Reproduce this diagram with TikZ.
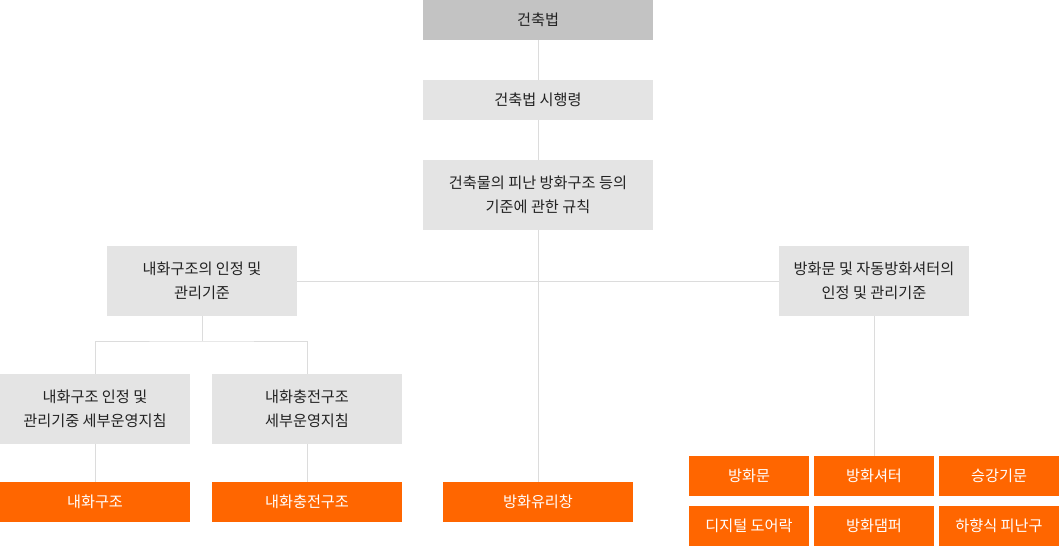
\documentclass[tikz,border=0pt]{standalone}
\usepackage{fontspec}
\setmainfont{Noto Sans CJK KR}
\usetikzlibrary{positioning}
\definecolor{lawtop}{HTML}{C3C3C3}
\definecolor{lawgray}{HTML}{E4E4E4}
\definecolor{fireorange}{HTML}{FF6600}
\definecolor{linkgray}{HTML}{DCDCDC}
\definecolor{textgray}{HTML}{222222}
\tikzset{
  lawbox/.style={fill=lawgray, text=textgray, align=center, inner sep=0pt,
    minimum width=142.5pt, minimum height=52.5pt, font=\fontsize{11.4}{18}\selectfont},
  firebox/.style={fill=fireorange, text=white, align=center, inner sep=0pt,
    minimum width=142.5pt, minimum height=30pt, font=\fontsize{11.4}{18}\selectfont},
  link/.style={draw=linkgray, line width=0.75pt}
}
\begin{document}
\begin{tikzpicture}[x=0.75pt, y=-0.75pt]
    \useasboundingbox (0,0) rectangle (1059,546);
    % law chain
    \node[lawbox, fill=lawtop, minimum width=172.5pt, minimum height=30pt] (act) at (538,20) {건축법};
    \node[lawbox, minimum width=172.5pt, minimum height=30pt] (decree) at (538,100) {건축법 시행령};
    \node[lawbox, minimum width=172.5pt] (rule) at (538,195) {건축물의 피난 방화구조 등의\\기준에 관한 규칙};
    \node[lawbox] (fireproof) at (202,281) {내화구조의 인정 및\\관리기준};
    \node[lawbox] (firedoor) at (874,281) {방화문 및 자동방화셔터의\\인정 및 관리기준};
    \node[lawbox] (guideA) at (95,409) {내화구조 인정 및\\관리기중 세부운영지침};
    \node[lawbox] (guideB) at (307,409) {내화충전구조\\세부운영지침};
    % products
    \node[firebox] (structA) at (95,502) {내화구조};
    \node[firebox] (structB) at (307,502) {내화충전구조};
    \node[firebox] (glass) at (538,502) {방화유리창};
    \node[firebox, minimum width=90pt] (door) at (749,476) {방화문};
    \node[firebox, minimum width=90pt] (shutter) at (874,476) {방화셔터};
    \node[firebox, minimum width=90pt] (lift) at (999,476) {승강기문};
    \node[firebox, minimum width=90pt] (lock) at (749,526) {디지털 도어락};
    \node[firebox, minimum width=90pt] (damper) at (874,526) {방화댐퍼};
    \node[firebox, minimum width=90pt] (hatch) at (999,526) {하향식 피난구};
    \coordinate (split) at (202,341);
    % connectors
    \draw[link] (act) -- (decree);
    \draw[link] (decree) -- (rule);
    \draw[link] (rule) -- (glass);
    \draw[link] (fireproof) -- (firedoor);
    \draw[link] (fireproof) -- (split);
    \draw[link] (guideA.north) |- (split) -| (guideB.north);
    \draw[link] (guideA) -- (structA);
    \draw[link] (guideB) -- (structB);
    \draw[link] (firedoor) -- (shutter);
\end{tikzpicture}
\end{document}
